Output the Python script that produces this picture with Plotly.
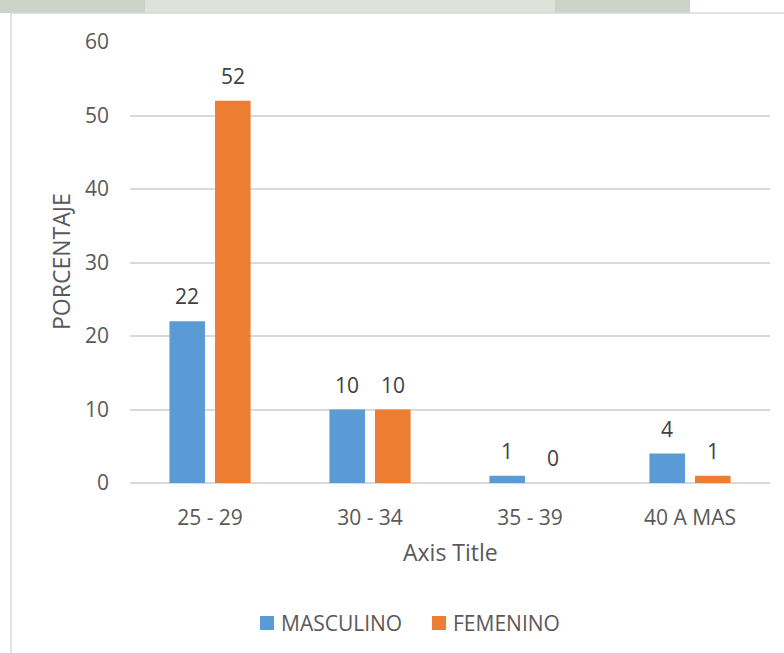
import plotly.graph_objects as go

# Age groups and the share of each sex in them
categories = ["25 - 29", "30 - 34", "35 - 39", "40 A MAS"]
masculino = [22, 10, 1, 4]
femenino = [52, 10, 0, 1]
y_ticks = [0, 10, 20, 30, 40, 50, 60]
series_names = ["MASCULINO", "FEMENINO"]

BLUE = "#5B9BD5"
ORANGE = "#ED7D31"
TEXT = "#595959"
LABEL = "#404040"
GRID = "#D9D9D9"
FONT = "Open Sans"
FS = 21        # tick, data-label and legend text
FS_TITLE = 23  # axis titles

W, H = 784, 653
L, R, T, B = 130, 14, 42, 170   # plot area: x 130..770, y 42..483
PW, PH = W - L - R, H - T - B


def px(x):
    """pixel x -> paper x"""
    return (x - L) / PW


def py(y):
    """pixel y (from top) -> paper y"""
    return (H - B - y) / PH


fig = go.Figure()
fig.add_trace(go.Bar(name=series_names[0], x=categories, y=masculino,
                     marker=dict(color=BLUE, line=dict(width=0))))
fig.add_trace(go.Bar(name=series_names[1], x=categories, y=femenino,
                     marker=dict(color=ORANGE, line=dict(width=0))))

# value labels above each bar
annotations = []
for vals, shift in ((masculino, -22.75), (femenino, 22.75)):
    for c, v in zip(categories, vals):
        annotations.append(dict(
            x=c, y=v, xref="x", yref="y", text=str(v), showarrow=False,
            xshift=shift, yshift=25, xanchor="center", yanchor="middle",
            font=dict(family=FONT, size=FS, color=LABEL)))

# axis titles
annotations.append(dict(x=px(450), y=py(552), xref="paper", yref="paper",
                        text="Axis Title", showarrow=False,
                        xanchor="center", yanchor="middle",
                        font=dict(family=FONT, size=FS_TITLE, color=TEXT)))
annotations.append(dict(x=px(61), y=py(262), xref="paper", yref="paper",
                        text="PORCENTAJE", showarrow=False, textangle=-90,
                        xanchor="center", yanchor="middle",
                        font=dict(family=FONT, size=FS_TITLE, color=TEXT)))

shapes = [
    # faded strip of the page behind the chart frame
    dict(type="rect", xref="paper", yref="paper", x0=px(0), x1=px(690),
         y0=py(13), y1=py(0), fillcolor="#CBD2C6", line=dict(width=0), layer="below"),
    dict(type="rect", xref="paper", yref="paper", x0=px(145), x1=px(555),
         y0=py(13), y1=py(0), fillcolor="#DEE2DA", line=dict(width=0), layer="below"),
    # chart frame
    dict(type="line", xref="paper", yref="paper", x0=px(11), x1=px(11),
         y0=py(13), y1=py(653), line=dict(color=GRID, width=1.5)),
    dict(type="line", xref="paper", yref="paper", x0=px(11), x1=px(784),
         y0=py(13), y1=py(13), line=dict(color=GRID, width=1.5)),
]

# legend: colour square followed by the series name
legend_items = [(series_names[0], BLUE, 260), (series_names[1], ORANGE, 432)]
for name, color, x0 in legend_items:
    shapes.append(dict(type="rect", xref="paper", yref="paper",
                       x0=px(x0), x1=px(x0 + 14), y0=py(630), y1=py(616),
                       fillcolor=color, line=dict(width=0)))
    annotations.append(dict(x=px(x0 + 19), y=py(623), xref="paper", yref="paper",
                            text=name, showarrow=False, xanchor="left", yanchor="middle",
                            font=dict(family=FONT, size=FS, color=TEXT)))

fig.update_layout(
    width=W, height=H,
    margin=dict(l=L, r=R, t=T, b=B, pad=0),
    paper_bgcolor="white", plot_bgcolor="white",
    barmode="group", bargap=0.43, bargroupgap=0.22,
    font=dict(family=FONT, size=FS, color=TEXT),
    showlegend=False,
    xaxis=dict(showgrid=False, showline=False, ticks="", tickfont=dict(size=FS, color=TEXT),
               ticklabelstandoff=20),
    yaxis=dict(range=[0, 60], tickvals=y_ticks, showgrid=True, gridcolor=GRID, gridwidth=1.5,
               zeroline=True, zerolinecolor=GRID, zerolinewidth=1.5, showline=False,
               ticks="", tickfont=dict(size=FS, color=TEXT), ticklabelstandoff=20),
    annotations=annotations,
    shapes=shapes,
)

fig.write_html("out.html")
